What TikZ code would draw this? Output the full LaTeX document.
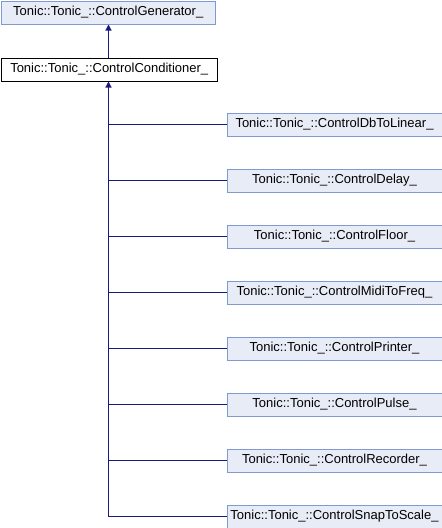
\documentclass[tikz,border=0pt]{standalone}
\usepackage{fontspec}
\setmainfont{Liberation Sans}
\usetikzlibrary{arrows.meta}
\definecolor{boxfill}{HTML}{E8ECF6}
\definecolor{boxline}{HTML}{7F9AD0}
\definecolor{linkcol}{HTML}{191980}
\begin{document}
\begin{tikzpicture}[x=1pt,y=-1pt,
  cls/.style={draw=boxline,fill=boxfill,line width=1pt,minimum height=23pt,inner sep=0pt,font=\fontsize{13}{15}\selectfont,anchor=north west},
  cur/.style={draw=black,fill=white,line width=1pt,minimum height=23pt,inner sep=0pt,font=\fontsize{13}{15}\selectfont,anchor=north west},
  link/.style={draw=linkcol,line width=1.2pt},
  inh/.style={link,-{Triangle[length=6pt,width=6pt]}}]
\useasboundingbox (0,0) rectangle (442,528);
\node[cls,minimum width=214.5pt] (gen) at (0.5,0.5) {Tonic::Tonic\_::ControlGenerator\_};
\node[cur,minimum width=216.5pt] (cond) at (0.5,57.5) {Tonic::Tonic\_::ControlConditioner\_};
\foreach \n/\t [count=\k from 0] in {c1/ControlDbToLinear\_, c2/ControlDelay\_, c3/ControlFloor\_, c4/ControlMidiToFreq\_, c5/ControlPrinter\_, c6/ControlPulse\_, c7/ControlRecorder\_, c8/ControlSnapToScale\_}{
  \node[cls,minimum width=215pt] (\n) at (226.5,112.5+56*\k) {Tonic::Tonic\_::\t};
}
\coordinate (trunk) at (108.5,0);
\draw[inh] (cond.north -| trunk) -- (gen.south -| trunk);
\draw[inh] (c8.west -| trunk) -- (cond.south -| trunk);
\foreach \n in {c1,c2,c3,c4,c5,c6,c7,c8}{
  \draw[link] (\n.west -| trunk) -- (\n.west);
}
\end{tikzpicture}
\end{document}
